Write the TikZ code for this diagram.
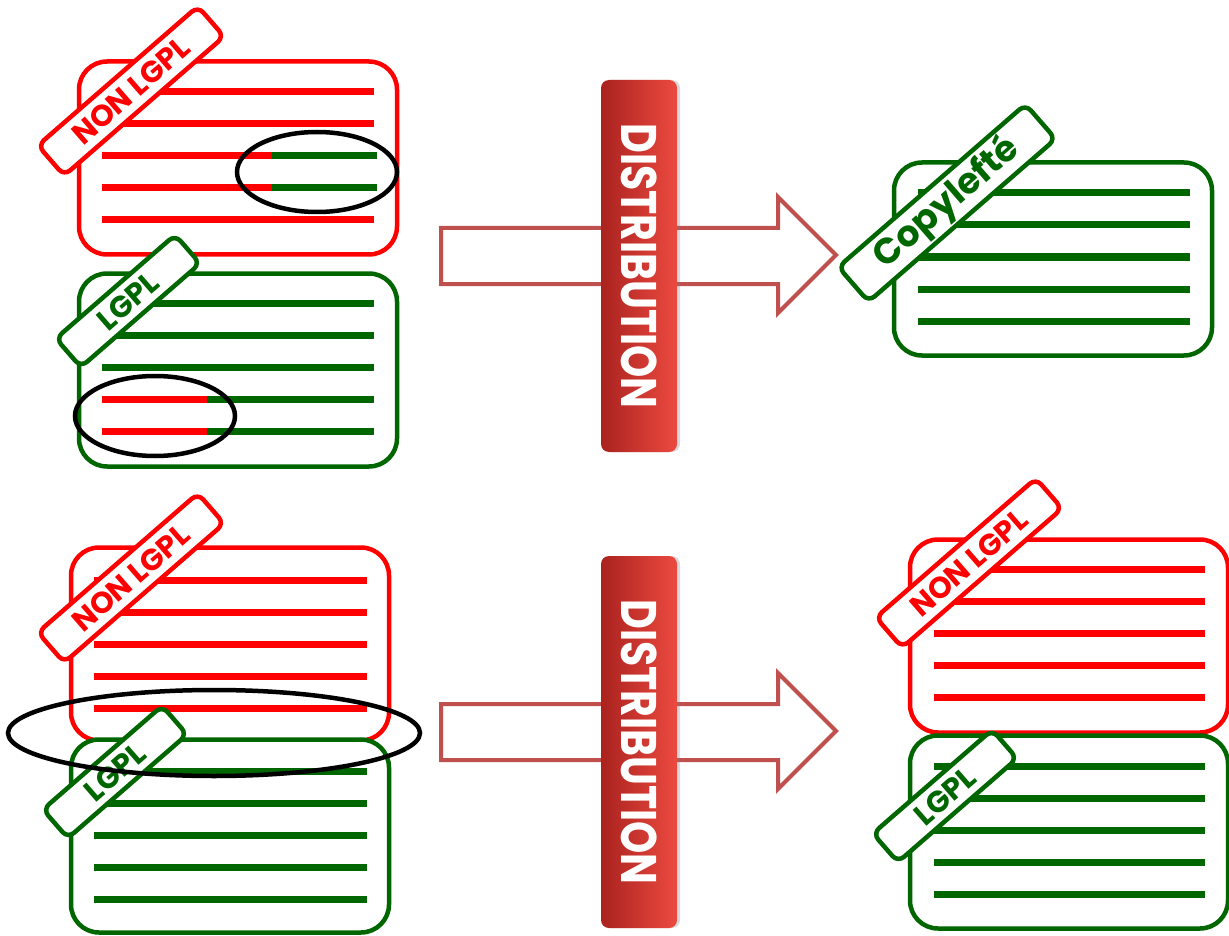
\documentclass[tikz,border=0pt]{standalone}
\usepackage{fontspec}
\setmainfont{Poppins}
\usetikzlibrary{shapes.geometric, shadows}

\definecolor{nonred}{RGB}{255,0,0}
\definecolor{lgplgreen}{RGB}{0,102,0}
\definecolor{arrowred}{RGB}{192,80,77}
\definecolor{bardark}{RGB}{170,34,30}
\definecolor{barlight}{RGB}{236,74,64}

\begin{document}
\begin{tikzpicture}[x=1pt, y=-1pt,
	filebox/.style={draw, fill=white, line width=4.5pt, rounded corners=28pt, minimum width=318pt, minimum height=193pt},
	redbox/.style={filebox, draw=nonred},
	greenbox/.style={filebox, draw=lgplgreen},
	redline/.style={draw=nonred, line width=7pt},
	greenline/.style={draw=lgplgreen, line width=7pt},
	tag/.style={draw, fill=white, line width=4.5pt, rounded corners=8pt, rotate=41, inner sep=0pt, font=\bfseries\fontsize{30}{30}\selectfont},
	nontag/.style={tag, draw=nonred, text=nonred, minimum width=212pt, minimum height=40pt},
	lgpltag/.style={tag, draw=lgplgreen, text=lgplgreen, minimum width=158pt, minimum height=38pt},
	ring/.style={draw, ellipse, line width=4.5pt, inner sep=0pt},
	bigarrow/.style={draw=arrowred, line width=4pt, miter limit=20},
	bar/.style={rounded corners=8pt, rotate=-90, minimum width=372pt, minimum height=76pt, left color=bardark, right color=barlight, text=white, font=\bfseries\fontsize{50}{50}\selectfont, drop shadow={opacity=0.3, shadow xshift=3pt, shadow yshift=0pt}}]
	\useasboundingbox (0,0) rectangle (1229,936);

	% before distribution: mixed files
	\node[redbox] (nl1) at (238,158) {};
	\foreach \y in {92,124,156,188,220} \draw[redline] (102,\y) -- (374,\y);
	\foreach \y in {156,188} \draw[greenline] (272,\y) -- (377,\y);
	\node[greenbox] (gl1) at (238,370) {};
	\foreach \y in {303,335,367,399,431} \draw[greenline] (102,\y) -- (374,\y);
	\foreach \y in {399,431} \draw[redline] (102,\y) -- (207,\y);
	\node[nontag] (nltag1) at (131,91) {NON LGPL};
	\node[lgpltag] (gltag1) at (128,301) {LGPL};
	\node[ring, minimum width=160pt, minimum height=80pt] (sel1) at (317,172) {};
	\node[ring, minimum width=160pt, minimum height=80pt] (sel2) at (155,416) {};

	\node[redbox] (nl2) at (230,644) {};
	\foreach \y in {580,612,644,676,708} \draw[redline] (94,\y) -- (367,\y);
	\node[greenbox] (gl2) at (230,836) {};
	\foreach \y in {771,803,835,867,899} \draw[greenline] (94,\y) -- (367,\y);
	\node[nontag] (nltag2) at (131,578) {NON LGPL};
	\node[lgpltag] (gltag2) at (115,772) {LGPL};
	\node[ring, minimum width=412pt, minimum height=86pt] (sel3) at (214,733) {};

	% distribution arrows
	\draw[bigarrow] (441,228) -- (778,228) -- (778,197) -- (836,255) -- (778,313) -- (778,284) -- (441,284) -- cycle;
	\draw[bigarrow] (441,704) -- (778,704) -- (778,673) -- (836,731) -- (778,789) -- (778,760) -- (441,760) -- cycle;
	\node[bar] (dist1) at (639,266) {\scalebox{0.82}[1]{DISTRIBUTION}};
	\node[bar] (dist2) at (639,742) {\scalebox{0.82}[1]{DISTRIBUTION}};

	% after distribution
	\node[greenbox] (cl) at (1053,259) {};
	\foreach \y in {193,225,257,289,321} \draw[greenline] (918,\y) -- (1190,\y);
	\node[tag, draw=lgplgreen, text=lgplgreen, minimum width=248pt, minimum height=46pt, font=\bfseries\fontsize{36}{36}\selectfont] (cltag) at (947,203) {Copylefté};

	\node[redbox] (nl3) at (1069,636) {};
	\foreach \y in {569,601,633,665,697} \draw[redline] (934,\y) -- (1205,\y);
	\node[greenbox] (gl3) at (1069,832) {};
	\foreach \y in {766,798,830,862,894} \draw[greenline] (934,\y) -- (1205,\y);
	\node[nontag] (nltag3) at (969,563) {NON LGPL};
	\node[lgpltag] (gltag3) at (945,796) {LGPL};
\end{tikzpicture}
\end{document}
